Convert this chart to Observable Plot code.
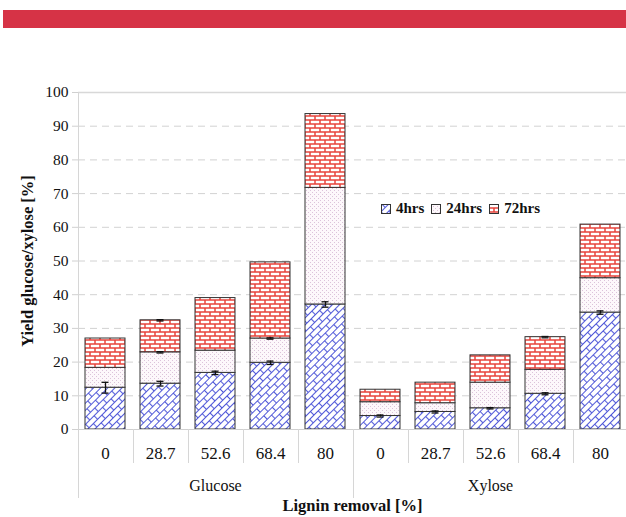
<!DOCTYPE html>
<html>
<head>
<meta charset="utf-8">
<script src="https://cdn.jsdelivr.net/npm/d3@7"></script>
<script src="https://cdn.jsdelivr.net/npm/@observablehq/plot@0.6"></script>
<style>
  body { margin: 0; background: #fff; }
  #wrap { position: relative; width: 626px; height: 517px; overflow: hidden; font-family: "Liberation Serif", "Times New Roman", "DejaVu Serif", serif; }
  #band { position: absolute; left: 3px; top: 10px; width: 623px; height: 18px; background: #d63346; }
  #chart { position: absolute; left: 0; top: 0; }
  #chart svg, #chart svg text { font-family: "Liberation Serif", "Times New Roman", "DejaVu Serif", serif; }
  #legend { position: absolute; left: 381px; top: 200px; display: flex; align-items: center; font-weight: bold; font-size: 15px; color: #111; white-space: nowrap; }
  #legend .item { display: flex; align-items: center; margin-right: 7px; }
  #legend svg { margin-right: 5px; }
</style>
</head>
<body>
<div id="wrap">
  <div id="band"></div>
  <div id="chart"></div>
  <div id="legend"></div>
</div>
<script>
// Categories
const sugars = ["Glucose", "Xylose"];
const removal = ["0", "28.7", "52.6", "68.4", "80"];
const periods = ["4hrs", "24hrs", "72hrs"];

// Yield gained in each period (stacked), Glucose 0..80 then Xylose 0..80
const yield4  = [12.4, 13.6, 16.8, 19.8, 37.1,  4.0, 5.2, 6.3, 10.6, 34.7];
const yield24 = [ 5.9,  9.3,  6.6,  7.2, 34.6,  4.1, 2.6, 7.6,  7.1, 10.2];
const yield72 = [ 8.7,  9.5, 15.6, 22.6, 21.9,  3.7, 6.1, 8.1,  9.7, 15.9];

// Error half-widths at the top of each segment
const err4  = [1.6, 0.7, 0.5, 0.5, 0.8,  0.3, 0.3, 0.2, 0.3, 0.5];
const err24 = [0.0, 0.2, 0.0, 0.2, 0.0,  0.0, 0.0, 0.0, 0.0, 0.0];
const err72 = [0.0, 0.2, 0.0, 0.0, 0.0,  0.0, 0.0, 0.0, 0.2, 0.0];

const yTicks = [0, 10, 20, 30, 40, 50, 60, 70, 80, 90, 100];

const series = {"4hrs": yield4, "24hrs": yield24, "72hrs": yield72};
const errors = {"4hrs": err4, "24hrs": err24, "72hrs": err72};
const fillOf = {"4hrs": "url(#pat4)", "24hrs": "url(#pat24)", "72hrs": "url(#pat72)"};
const serif = '"Liberation Serif", "Times New Roman", "DejaVu Serif", serif';

const keys = [];
const rows = [];
const errRows = [];
sugars.forEach((s, si) => removal.forEach((r, ri) => {
  const i = si * removal.length + ri;
  const key = `${s}|${r}`;
  keys.push(key);
  let top = 0;
  periods.forEach(p => {
    const v = series[p][i];
    rows.push({key, period: p, value: v});
    top += v;
    if (errors[p][i] > 0) errRows.push({key, top, err: errors[p][i]});
  });
}));

const chart = Plot.plot({
  width: 626,
  height: 517,
  marginLeft: 78,
  marginRight: 0,
  marginTop: 92,
  marginBottom: 88,
  style: {fontFamily: serif, color: "#111", background: "transparent"},
  x: {type: "band", domain: keys, range: [78, 628], paddingInner: 0.27, paddingOuter: 0.135, axis: null},
  y: {domain: [0, 100], axis: null},
  color: {type: "identity"},
  marks: [
    Plot.gridY(yTicks.filter(t => t > 0 && t < 100), {stroke: "#d2d2d2", strokeOpacity: 1, strokeDasharray: "7,5"}),
    Plot.ruleY([100], {stroke: "#d8d8d8", strokeWidth: 1.5}),
    Plot.barY(rows, Plot.stackY({x: "key", y: "value", fill: d => fillOf[d.period], stroke: "#333", strokeWidth: 1})),
    Plot.ruleX(errRows, {x: "key", y1: d => d.top - d.err, y2: d => d.top + d.err, stroke: "#111", strokeWidth: 1.3}),
    Plot.tickY(errRows, {x: "key", y: d => d.top + d.err, stroke: "#111", strokeWidth: 1.3, insetLeft: 16.5, insetRight: 16.5}),
    Plot.tickY(errRows, {x: "key", y: d => d.top - d.err, stroke: "#111", strokeWidth: 1.3, insetLeft: 16.5, insetRight: 16.5}),
    Plot.ruleY([0], {stroke: "#cfcfcf"}),
    Plot.axisY({ticks: yTicks, tickSize: 6, tickPadding: 4, stroke: "#d0d0d0", fill: "#111", fontSize: 15.5, fontFamily: serif, label: null}),
    Plot.axisX({tickSize: 0, tickPadding: 17, tickFormat: d => d.split("|")[1], fill: "#111", fontSize: 17, fontFamily: serif, label: null}),
    Plot.text(sugars, {x: s => `${s}|${removal[2]}`, frameAnchor: "bottom", dy: 61, text: d => d, fontSize: 16, fontFamily: serif, fill: "#111"}),
    Plot.text(["Lignin removal [%]"], {frameAnchor: "bottom", dy: 81, text: d => d, fontSize: 16.5, fontWeight: "bold", fontFamily: serif, fill: "#111"}),
    Plot.text(["Yield glucose/xylose [%]"], {frameAnchor: "left", textAnchor: "middle", dx: -51, rotate: -90, text: d => d, fontSize: 16.5, fontWeight: "bold", fontFamily: serif, fill: "#111"})
  ]
});

// Fill patterns for the three periods
const svg = d3.select(chart);
const defs = svg.insert("defs", ":first-child");

// 4hrs: diagonal blue brickwork
const p4 = defs.append("pattern").attr("id", "pat4").attr("patternUnits", "userSpaceOnUse")
  .attr("width", 12).attr("height", 10).attr("patternTransform", "rotate(-45)");
p4.append("rect").attr("width", 12).attr("height", 10).attr("fill", "#fff");
p4.append("path").attr("d", "M0,0.5H12M0,5.5H12M0.5,0.5V5.5M6.5,5.5V10.5")
  .attr("stroke", "#5058d8").attr("stroke-width", 1.1).attr("fill", "none");

// 24hrs: pale stipple
const p24 = defs.append("pattern").attr("id", "pat24").attr("patternUnits", "userSpaceOnUse")
  .attr("width", 4).attr("height", 4);
p24.append("rect").attr("width", 4).attr("height", 4).attr("fill", "#fdf8fb");
p24.append("rect").attr("x", 0).attr("y", 0).attr("width", 1).attr("height", 1).attr("fill", "#dcc3da");
p24.append("rect").attr("x", 2).attr("y", 2).attr("width", 1).attr("height", 1).attr("fill", "#dcc3da");

// 72hrs: red horizontal brickwork
const p72 = defs.append("pattern").attr("id", "pat72").attr("patternUnits", "userSpaceOnUse")
  .attr("width", 10).attr("height", 8);
p72.append("rect").attr("width", 10).attr("height", 8).attr("fill", "#e8433b");
[[0.75, 0.75], [-4.25, 4.75], [5.75, 4.75]].forEach(([x, y]) =>
  p72.append("rect").attr("x", x).attr("y", y).attr("width", 8.5).attr("height", 2.5).attr("fill", "#fff"));

// Category dividers below the baseline, taller between the two sugars
const xs = chart.scale("x");
const ys = chart.scale("y");
const y0 = ys.apply(0);
const gap = xs.step - xs.bandwidth;
const lines = svg.append("g").attr("stroke", "#d6d6d6").attr("stroke-width", 1);
keys.forEach((k, i) => {
  const xb = Math.round(xs.apply(k) - gap / 2) + 0.5;
  const groupEdge = i % removal.length === 0;
  const top = i === 0 ? ys.apply(100) : y0;
  lines.append("line").attr("x1", xb).attr("x2", xb).attr("y1", top).attr("y2", groupEdge ? y0 + 69 : y0 + 34);
});

document.getElementById("chart").appendChild(chart);

// Legend
const legend = d3.select("#legend");
periods.forEach(p => {
  const item = legend.append("div").attr("class", "item");
  const sw = item.append("svg").attr("width", 10).attr("height", 10);
  sw.append("rect").attr("x", 0.5).attr("y", 0.5).attr("width", 9).attr("height", 9)
    .attr("fill", fillOf[p]).attr("stroke", "#333").attr("stroke-width", 1);
  item.append("span").text(p);
});
</script>
</body>
</html>
